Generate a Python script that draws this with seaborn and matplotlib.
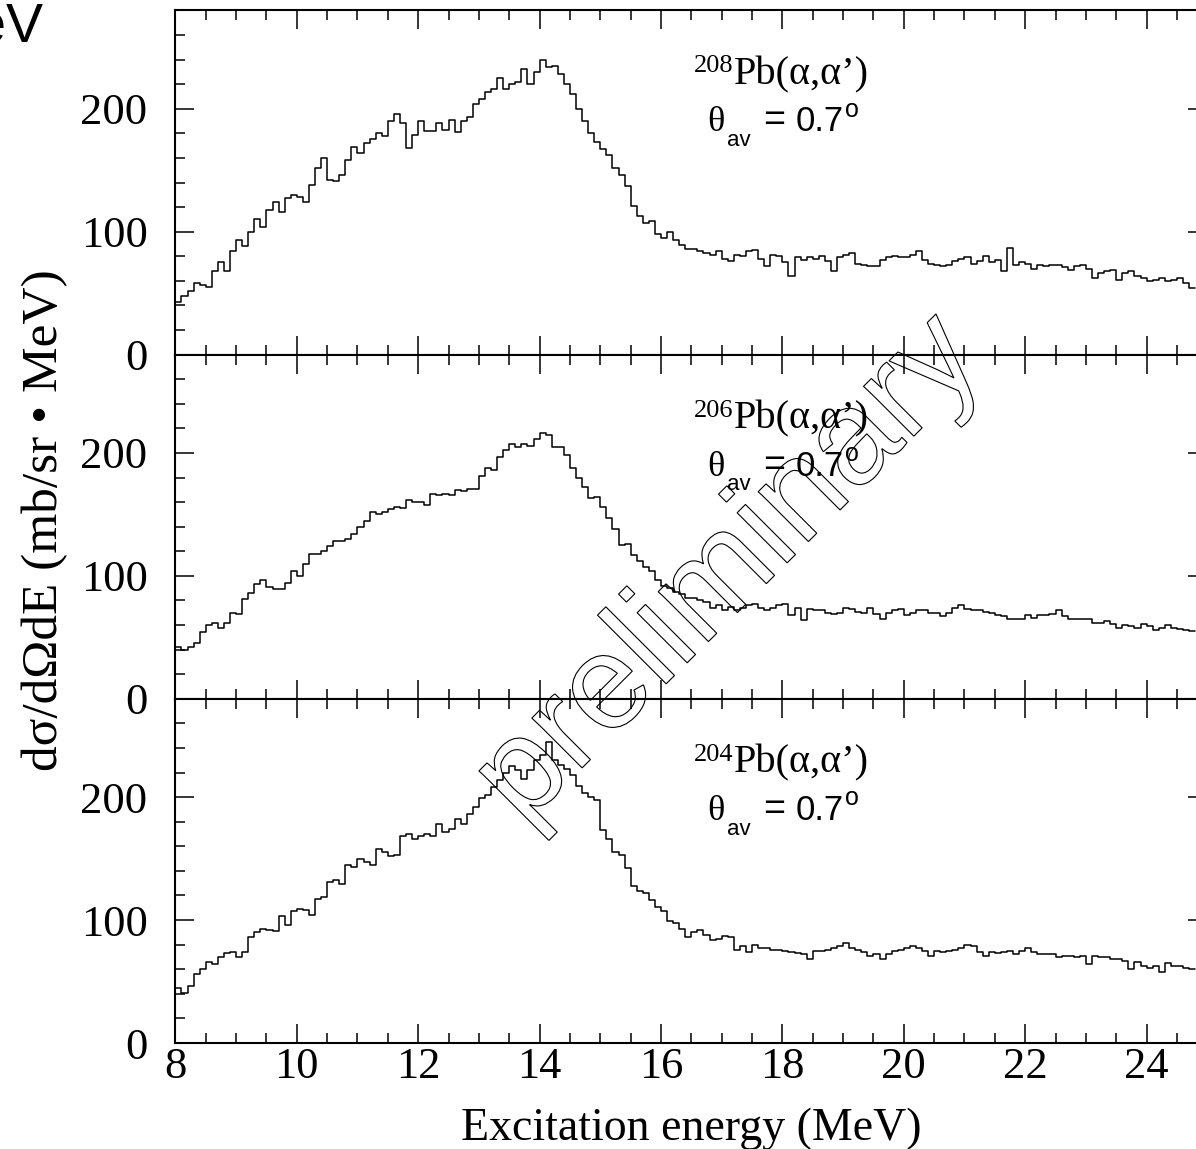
import numpy as np
import pandas as pd
import matplotlib
matplotlib.use('Agg')
import matplotlib.pyplot as plt
import seaborn as sns
from matplotlib import font_manager
from matplotlib.font_manager import FontProperties
from matplotlib.textpath import TextPath
from matplotlib.patches import PathPatch
from matplotlib.transforms import Affine2D
from matplotlib.ticker import MultipleLocator

# bin edges of the spectra (MeV), 0.1 MeV bins
edges = np.linspace(8.0, 24.8, 169)

# d2sigma/dOmega dE (mb/sr MeV), one value per bin
pb208 = [43, 48, 52, 58, 57, 55, 68, 75, 68, 84,
         93, 88, 100, 110, 104, 118, 124, 116, 127, 130,
         128, 124, 138, 152, 160, 142, 141, 146, 158, 169,
         164, 172, 175, 180, 178, 190, 196, 188, 168, 179,
         190, 182, 182, 188, 183, 191, 181, 190, 193, 204,
         208, 214, 216, 225, 216, 220, 222, 232, 220, 230,
         240, 234, 235, 228, 220, 212, 200, 190, 180, 173,
         167, 162, 152, 146, 137, 121, 113, 107, 109, 98,
         95, 100, 93, 89, 86, 86, 84, 83, 81, 84,
         78, 76, 81, 80, 84, 85, 78, 72, 81, 80,
         75, 64, 79, 77, 79, 78, 80, 76, 68, 79,
         81, 83, 74, 73, 72, 72, 77, 79, 80, 79,
         79, 81, 84, 77, 74, 73, 72, 73, 76, 78,
         79, 74, 76, 80, 75, 77, 68, 87, 73, 75,
         74, 70, 73, 72, 73, 73, 71, 69, 72, 73,
         70, 62, 66, 68, 69, 61, 66, 68, 64, 62,
         60, 61, 62, 60, 61, 62, 58, 54]

pb206 = [42, 40, 42, 45, 54, 60, 62, 58, 62, 70,
         69, 81, 86, 93, 97, 91, 89, 89, 94, 104,
         100, 110, 118, 118, 120, 124, 128, 128, 130, 134,
         140, 145, 152, 150, 152, 154, 156, 155, 162, 160,
         160, 158, 167, 166, 167, 166, 170, 169, 171, 171,
         181, 188, 186, 197, 202, 207, 205, 207, 206, 211,
         216, 215, 205, 205, 198, 188, 180, 172, 163, 164,
         156, 147, 138, 125, 126, 117, 112, 107, 104, 97,
         92, 90, 87, 85, 82, 82, 80, 79, 74, 76,
         72, 75, 72, 74, 76, 77, 74, 72, 74, 76,
         77, 68, 74, 64, 73, 72, 72, 70, 69, 70,
         74, 73, 71, 70, 74, 69, 65, 70, 72, 73,
         68, 70, 72, 72, 70, 70, 67, 70, 74, 76,
         73, 72, 72, 71, 70, 68, 67, 65, 65, 65,
         68, 66, 68, 68, 69, 72, 67, 65, 65, 65,
         65, 62, 62, 63, 61, 58, 60, 59, 58, 61,
         59, 56, 58, 60, 58, 57, 56, 55]

pb204 = [45, 41, 46, 56, 60, 66, 64, 70, 73, 74,
         70, 74, 86, 90, 93, 92, 91, 103, 96, 107,
         109, 108, 104, 117, 119, 131, 133, 129, 145, 143,
         150, 147, 145, 158, 155, 152, 153, 168, 170, 166,
         168, 170, 168, 178, 172, 174, 182, 178, 186, 192,
         199, 202, 208, 214, 220, 225, 222, 215, 222, 230,
         234, 245, 230, 226, 223, 218, 209, 203, 200, 198,
         173, 166, 155, 153, 142, 128, 124, 122, 116, 111,
         107, 99, 98, 93, 86, 90, 92, 88, 84, 85,
         87, 86, 76, 79, 74, 80, 77, 77, 76, 76,
         75, 74, 73, 72, 68, 75, 75, 76, 77, 79,
         81, 77, 76, 74, 71, 72, 68, 72, 75, 76,
         77, 79, 77, 75, 71, 75, 74, 75, 76, 77,
         80, 79, 74, 71, 74, 73, 74, 75, 72, 75,
         77, 74, 72, 72, 72, 70, 71, 71, 70, 71,
         64, 71, 70, 70, 68, 68, 67, 60, 66, 63,
         61, 63, 58, 65, 63, 63, 61, 60]

masses = ['208', '206', '204']
spectra = [pb208, pb206, pb204]

sns.set_style('ticks', {'axes.edgecolor': 'black', 'xtick.color': 'black',
                        'ytick.color': 'black', 'text.color': 'black',
                        'axes.labelcolor': 'black'})
plt.rcParams['font.family'] = ['Liberation Serif', 'DejaVu Serif']
names = {f.name for f in font_manager.fontManager.ttflist}
narrow = 'Liberation Sans Narrow' if 'Liberation Sans Narrow' in names else 'Liberation Sans'
numsize = 27 if narrow == 'Liberation Sans Narrow' else 25

W, H = 1196, 1149
fig = plt.figure(figsize=(W / 100, H / 100), dpi=100)

left = 175.4 / W
width = 17 * 60.7 / W
ph = 344.2 / H
bottoms = [0.09225 + 2 * ph, 0.09225 + ph, 0.09225]

centers = edges[:-1] + 0.05
axes = []
for i, (mass, vals) in enumerate(zip(masses, spectra)):
    ax = fig.add_axes([left, bottoms[i], width, ph])
    df = pd.DataFrame({'E': centers, 'xs': vals})
    sns.histplot(data=df, x='E', weights='xs', bins=list(edges), element='step',
                 fill=False, color='black', linewidth=1.1, ax=ax)
    ax.set_xlim(8, 25)
    ax.set_ylim(0, 280)
    ax.set_xlabel('')
    ax.set_ylabel('')
    ax.xaxis.set_major_locator(MultipleLocator(2))
    ax.xaxis.set_minor_locator(MultipleLocator(0.5))
    ax.yaxis.set_major_locator(MultipleLocator(100))
    ax.yaxis.set_minor_locator(MultipleLocator(20))
    ax.tick_params(which='both', direction='in', top=True, right=True, width=1.1,
                   color='black', labelcolor='black')
    ax.tick_params(which='major', length=14)
    ax.tick_params(which='minor', length=7)
    ax.tick_params(axis='y', labelsize=32, pad=20)
    ax.tick_params(axis='x', labelsize=32, pad=3)
    if i < 2:
        ax.tick_params(axis='x', labelbottom=False)
    for s in ax.spines.values():
        s.set_linewidth(1.5)
        s.set_color('black')

    # reaction label
    ax.text(17.2, 220, 'Pb(α,α’)', fontsize=29, ha='left', va='baseline')
    ax.text(17.2, 229.5, mass, fontsize=19, ha='right', va='baseline')
    ax.text(16.77, 181.6, 'θ', fontsize=26, ha='left', va='baseline')
    ax.text(17.09, 169.5, 'av', fontsize=16, ha='left', va='baseline', family=narrow)
    ax.text(17.68, 181.6, '=', fontsize=27, ha='left', va='baseline', family=narrow)
    t07 = ax.text(18.21, 181.6, '0.7', fontsize=numsize, ha='left', va='baseline',
                  family=narrow)
    ax.annotate('o', xy=(1.0, 193.6), xycoords=(t07, 'data'), xytext=(1, 0),
                textcoords='offset points', fontsize=18, ha='left', va='baseline',
                family=narrow)
    axes.append(ax)

fig.text(0.578, 0.0078, 'Excitation energy (MeV)', fontsize=33, ha='center', va='baseline')
fig.text(0.0376, 0.547, 'dσ/dΩdE (mb/sr • MeV)', fontsize=37, rotation=90,
         ha='center', va='center')

# leftover of a neighbouring slide
fig.text(44 / W, (H - 42) / H, 'MeV', fontsize=40, ha='right', va='baseline', family=narrow)

# outlined watermark
tp = TextPath((0, 0), 'preliminary', size=134, prop=FontProperties(family='Liberation Sans'))
ext = tp.get_extents()
cx, cy = (ext.x0 + ext.x1) / 2, (ext.y0 + ext.y1) / 2
tr = Affine2D().translate(-cx, -cy).rotate_deg(45).translate(733, H - 568).scale(1 / W, 1 / H)
fig.add_artist(PathPatch(tr.transform_path(tp), transform=fig.transFigure,
                         facecolor='none', edgecolor='black', lw=0.8, zorder=10))

fig.savefig('out.png', dpi=100)
